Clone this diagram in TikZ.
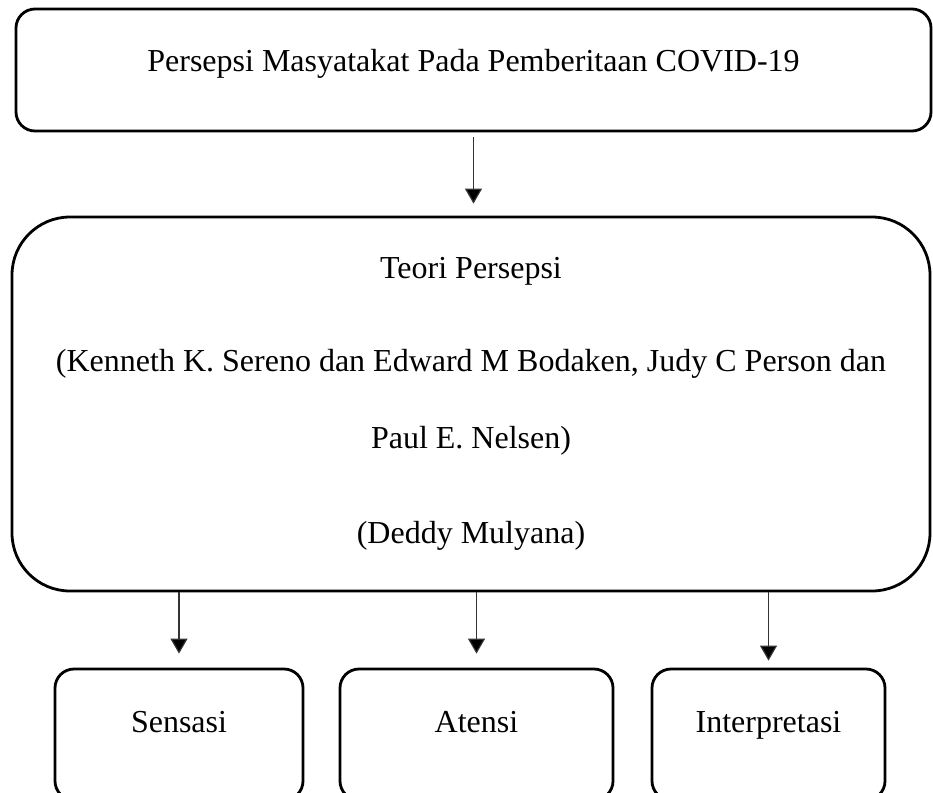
\documentclass[tikz,border=0pt]{standalone}
\usepackage{fontspec}
\setmainfont{Liberation Serif}
\usetikzlibrary{arrows.meta}
\begin{document}
\begin{tikzpicture}
  [x=1pt,y=-1pt,
   every node/.style={font=\fontsize{32}{77}\selectfont},
   box/.style={draw,line width=2.8pt,rounded corners=19pt,inner sep=0pt,minimum height=131pt},
   arr/.style={line width=1.2pt,draw=black!80,-{Triangle[width=17pt,length=15pt,fill=black]}}]
  \useasboundingbox (0,0) rectangle (933,792);
  \clip (0,0) rectangle (933,792);
  \node[box,minimum width=915pt,minimum height=122pt,text height=21pt,text depth=19pt] (persepsi) at (473.5,70) {Persepsi Masyatakat Pada Pemberitaan COVID-19};
  \node[box,rounded corners=58pt,minimum width=918pt,minimum height=374pt,align=center] (teori) at (471,404)
    {Teori Persepsi\\[16pt] (Kenneth K. Sereno dan Edward M Bodaken, Judy C Person dan\\ Paul E. Nelsen)\\[18pt] (Deddy Mulyana)};
  \node[box,minimum width=248pt,text height=21pt,text depth=26pt] (sensasi) at (179,734.5) {Sensasi};
  \node[box,minimum width=273pt,text height=21pt,text depth=26pt] (atensi) at (476.5,734.5) {Atensi};
  \node[box,minimum width=233pt,text height=21pt,text depth=26pt] (interpretasi) at (768.5,734.5) {Interpretasi};
  \draw[arr,shorten <=5pt,shorten >=12pt] (persepsi.south) -- (persepsi.south |- teori.north);
  \foreach \to/\gap in {sensasi/14,atensi/14,interpretasi/7}
    \draw[arr,shorten >=\gap pt] (teori.south -| \to.north) -- (\to.north);
\end{tikzpicture}
\end{document}
